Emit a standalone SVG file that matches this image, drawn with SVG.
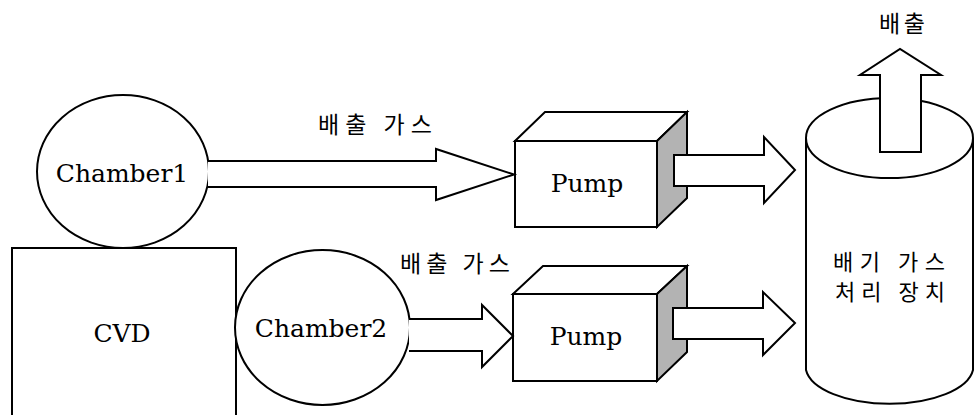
<svg xmlns="http://www.w3.org/2000/svg" width="976" height="415" viewBox="0 0 976 415">
<style>
.ln{fill:#fff;stroke:#000;stroke-width:2;stroke-linejoin:miter}
.side{fill:#b3b3b3;stroke:#000;stroke-width:2}
.en{font-family:"DejaVu Serif","Liberation Serif",serif;font-size:25px;fill:#000;text-anchor:middle}
.ko{font-family:"Noto Sans CJK KR","Noto Sans",sans-serif;font-size:23px;fill:#000}
.ks{font-size:22px}
</style>
<rect width="976" height="415" fill="#fff"/>
<g id="cvd">
<path class="ln" d="M12,416 V248 H236 V416"/>
<text class="en" x="122" y="342">CVD</text>
</g>
<g id="chamber1">
<ellipse class="ln" cx="123" cy="171.5" rx="86" ry="76.5"/>
<text class="en" x="122" y="182">Chamber1</text>
</g>
<g id="chamber2">
<ellipse class="ln" cx="322.5" cy="327.5" rx="87.5" ry="77.5"/>
<text class="en" x="321" y="337">Chamber2</text>
</g>
<g id="pump1">
<polygon class="ln" points="515,141 545,112 687,112 657,141"/>
<polygon class="side" points="657,141 687,112 687,198 657,227"/>
<rect class="ln" x="515" y="141" width="142" height="86"/>
<text class="en" x="587" y="192">Pump</text>
</g>
<g id="pump2">
<polygon class="ln" points="513,294 543,266 687,266 657,294"/>
<polygon class="side" points="657,294 687,266 687,352 657,381"/>
<rect class="ln" x="513" y="294" width="144" height="87"/>
<text class="en" x="586" y="345">Pump</text>
</g>
<g id="treatment">
<path class="ln" d="M806,138 V370 A84,38 0 0 0 973,370 V138"/>
<ellipse class="ln" cx="889.5" cy="138" rx="83.5" ry="40"/>
<text class="ko ks" x="833" y="270" textLength="112" lengthAdjust="spacing">배기 가스</text>
<text class="ko ks" x="835" y="300" textLength="110" lengthAdjust="spacing">처리 장치</text>
</g>
<g id="connectors">
<path class="ln" d="M208,161 H436 V149 L514,174.5 L436,200 V187 H208"/>
<text class="ko" x="318" y="133" textLength="114" lengthAdjust="spacing">배출 가스</text>
<path class="ln" d="M409,319 H482 V305 L513,336 L482,367 V351 H409"/>
<text class="ko" x="400" y="272" textLength="110" lengthAdjust="spacing">배출 가스</text>
<path class="ln" d="M674,155 H764 V137 L795,170 L764,203 V186 H674 Z"/>
<path class="ln" d="M673,308 H763 V292 L795,323 L763,355 V339 H673 Z"/>
<path class="ln" d="M880,152 V75 H860 L900,49 L941,75 H921 V152 Z"/>
<text class="ko" x="879" y="32" textLength="46" lengthAdjust="spacing">배출</text>
</g>
</svg>
